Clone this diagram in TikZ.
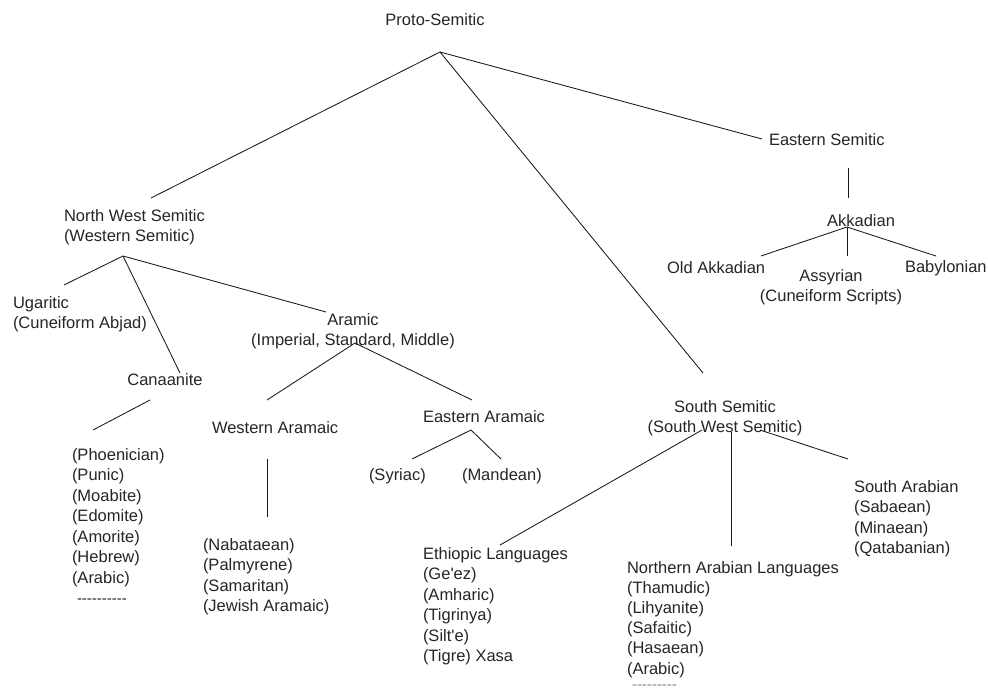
\documentclass[tikz,border=0pt]{standalone}
\usepackage{fontspec}
\setmainfont{Liberation Sans}
\definecolor{ink}{RGB}{38,38,38}
\definecolor{lnk}{RGB}{25,25,25}
\definecolor{faint}{RGB}{140,140,140}
\newcommand\fsz{\fontsize{16.5}{20.5}\selectfont}
\newcommand\fszt{\fontsize{16.5}{20.2}\selectfont}
\newcommand\stackL[1]{\begin{tabular}[t]{@{}l@{}}#1\end{tabular}}
\newcommand\stackC[1]{\begin{tabular}[t]{@{}c@{}}#1\end{tabular}}
\newcommand\hyphrow[1]{{\fontsize{15}{15}\selectfont\foreach \i in {1,...,#1}{-{}}}}
\begin{document}
\begin{tikzpicture}[x=1pt,y=-1pt,
  lbl/.style={inner sep=0pt, outer sep=0pt, font=\fsz, text=ink},
  lk/.style={draw=lnk, line width=0.85pt}]
\fill[white] (0,0) rectangle (988,691);
\useasboundingbox (0,0) rectangle (988,691);

% ---- text nodes
\node[lbl, anchor=base] (ps) at (435,25) {Proto-Semitic};
\node[lbl, anchor=base west] (nws) at (64,221) {\stackL{North West Semitic\\(Western Semitic)}};
\node[lbl, anchor=base west] (es) at (769,145) {Eastern Semitic};
\node[lbl, anchor=base] (akk) at (861,226) {Akkadian};
\node[lbl, anchor=base west] (oak) at (667,273) {Old Akkadian};
\node[lbl, anchor=base] (ass) at (831,281) {\stackC{Assyrian\\(Cuneiform Scripts)}};
\node[lbl, anchor=base west] (bab) at (905,272) {Babylonian};
\node[lbl, anchor=base west] (uga) at (13,308) {\stackL{Ugaritic\\(Cuneiform Abjad)}};
\node[lbl, anchor=base] (ara) at (353,325) {\stackC{Aramic\\(Imperial, Standard, Middle)}};
\node[lbl, anchor=base] (can) at (165,385) {Canaanite};
\node[lbl, anchor=base west] (phn) at (72,460) {\stackL{(Phoenician)\\(Punic)\\(Moabite)\\(Edomite)\\(Amorite)\\(Hebrew)\\(Arabic)}};
\node[lbl, anchor=base west] (phd) at (77,603) {\hyphrow{10}};
\node[lbl, anchor=base west] (wa) at (212,433) {Western Aramaic};
\node[lbl, anchor=base west] (nab) at (203,550) {\stackL{(Nabataean)\\(Palmyrene)\\(Samaritan)\\(Jewish Aramaic)}};
\node[lbl, anchor=base west] (ea) at (423,422) {Eastern Aramaic};
\node[lbl, anchor=base west] (syr) at (369,480) {(Syriac)};
\node[lbl, anchor=base west] (man) at (462,480) {(Mandean)};
\node[lbl, anchor=base] (ss) at (725,412) {\stackC{South Semitic\\(South West Semitic)}};
\node[lbl, anchor=base west] (eth) at (423,559) {\stackL{Ethiopic Languages\\(Ge\textquotesingle ez)\\(Amharic)\\(Tigrinya)\\(Silt\textquotesingle e)\\(Tigre) Xasa}};
\node[lbl, font=\fszt, anchor=base west] (na) at (627,573) {\stackL{Northern Arabian Languages\\(Thamudic)\\(Lihyanite)\\(Safaitic)\\(Hasaean)\\(Arabic)}};
\node[lbl, anchor=base west, text=faint] (nad) at (632,689) {\hyphrow{9}};
\node[lbl, anchor=base west] (sa) at (854,492) {\stackL{South Arabian\\(Sabaean)\\(Minaean)\\(Qatabanian)}};

% ---- connector end points
\coordinate (psJ) at (440,52);
\coordinate (nwsT) at (151,198);
\coordinate (ssT) at (703,373);
\coordinate (esT) at (762,139);
\coordinate (esB) at (848,168);
\coordinate (akkT) at (848,198);
\coordinate (akkJ) at (847,227);
\coordinate (oakT) at (761,256);
\coordinate (assT) at (847,256);
\coordinate (babT) at (936,256);
\coordinate (nwsJ) at (123,256);
\coordinate (ugaT) at (64,285);
\coordinate (canT) at (180,373);
\coordinate (araT) at (326,312);
\coordinate (canB) at (150,400);
\coordinate (phnT) at (93,430);
\coordinate (araJ) at (355,343);
\coordinate (waT) at (267,400);
\coordinate (eaT) at (472,400);
\coordinate (waB) at (267,459);
\coordinate (nabT) at (267,517);
\coordinate (eaJ) at (471,430);
\coordinate (syrT) at (412,459);
\coordinate (manT) at (501,459);
\coordinate (ssJa) at (702,430);
\coordinate (ethT) at (500,545);
\coordinate (ssJb) at (731,432);
\coordinate (naT) at (731,546);
\coordinate (ssJc) at (760,430);
\coordinate (saT) at (848,459);

% ---- connectors
\draw[lk] (psJ) -- (nwsT);
\draw[lk] (psJ) -- (ssT);
\draw[lk] (psJ) -- (esT);
\draw[lk] (esB) -- (akkT);
\draw[lk] (akkJ) -- (oakT);
\draw[lk] (akkJ) -- (assT);
\draw[lk] (akkJ) -- (babT);
\draw[lk] (nwsJ) -- (ugaT);
\draw[lk] (nwsJ) -- (canT);
\draw[lk] (nwsJ) -- (araT);
\draw[lk] (canB) -- (phnT);
\draw[lk] (araJ) -- (waT);
\draw[lk] (araJ) -- (eaT);
\draw[lk] (waB) -- (nabT);
\draw[lk] (eaJ) -- (syrT);
\draw[lk] (eaJ) -- (manT);
\draw[lk] (ssJa) -- (ethT);
\draw[lk] (ssJb) -- (naT);
\draw[lk] (ssJc) -- (saT);
\end{tikzpicture}
\end{document}
